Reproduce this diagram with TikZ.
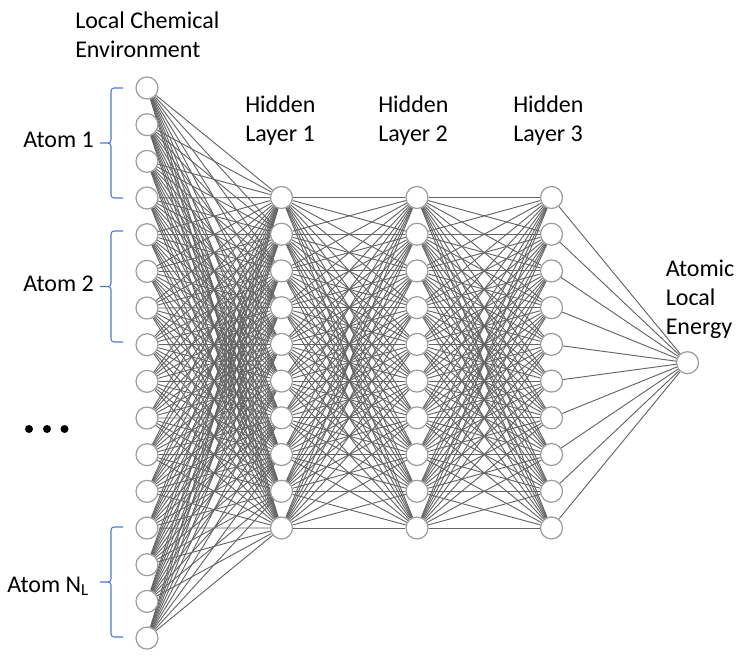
\documentclass[tikz,border=0pt]{standalone}
\usepackage{fontspec}
\setmainfont{Carlito}
\usetikzlibrary{calc,backgrounds}
\definecolor{edgegray}{HTML}{646464}
\definecolor{ringgray}{HTML}{9C9C9C}
\definecolor{braceblue}{HTML}{4A7BD0}
\tikzset{
  neuron/.style={circle, draw=ringgray, line width=0.9pt, fill=white, minimum size=16.5pt, inner sep=0pt},
  wire/.style={draw=edgegray, line width=0.7pt},
  lbl/.style={anchor=base west, inner sep=0pt, align=left, font=\fontsize{18}{21.75}\selectfont},
  atombrace/.style={draw=braceblue, line width=0.8pt, line join=round},
  dot/.style={circle, fill=black, minimum size=6pt, inner sep=0pt}
}
\newcommand{\drawatombrace}[2]{%
  \draw[atombrace] (123,#1) -- (114,#1) to[out=180,in=90] (111,#1+3)
     -- (111,{(#1+#2)/2-3}) to[out=-90,in=0] (108,{(#1+#2)/2}) -- (100,{(#1+#2)/2});
  \draw[atombrace] (123,#2) -- (114,#2) to[out=180,in=-90] (111,#2-3)
     -- (111,{(#1+#2)/2+3}) to[out=90,in=0] (108,{(#1+#2)/2});
}
\begin{document}
\begin{tikzpicture}[x=0.75pt, y=-0.75pt]
\useasboundingbox (0,0) rectangle (741,656);
% input layer
\foreach \i in {1,...,16} {
  \node[neuron] (in\i) at (147, {88+(\i-1)*36.67}) {};
}
% hidden layers
\foreach \i in {1,...,10} {
  \node[neuron] (ha\i) at (281.5, {197.5+(\i-1)*36.72}) {};
  \node[neuron] (hb\i) at (417, {197.5+(\i-1)*36.72}) {};
  \node[neuron] (hc\i) at (551.5, {197.5+(\i-1)*36.72}) {};
}
\node[neuron] (out) at (687.5, 362.7) {};
% connections
\begin{scope}[on background layer]
\foreach \i in {1,...,16} {
  \foreach \j in {1,...,10} {
    \draw[wire] (in\i) -- (ha\j);
  }
}
\foreach \i in {1,...,10} {
  \foreach \j in {1,...,10} {
    \draw[wire] (ha\i) -- (hb\j);
    \draw[wire] (hb\i) -- (hc\j);
  }
  \draw[wire] (hc\i) -- (out);
}
\end{scope}
% labels (anchored at the baseline of the last line)
\node[lbl] (lce) at (75,58) {Local Chemical\\Environment};
\node[lbl] (hl1) at (245,142) {Hidden\\Layer 1};
\node[lbl] (hl2) at (378,142) {Hidden\\Layer 2};
\node[lbl] (hl3) at (513,142) {Hidden\\Layer 3};
\node[lbl] (ale) at (665.5,334) {Atomic\\Local\\Energy};
\node[lbl] (a1) at (23,147.5) {Atom 1};
\node[lbl] (a2) at (23,291.5) {Atom 2};
\node[lbl] (anl) at (7,592) {Atom N\textsubscript{L}};
% braces
\drawatombrace{88}{198}
\drawatombrace{231}{342}
\drawatombrace{527}{637}
% ellipsis dots
\node[dot] (d1) at (29,429) {};
\node[dot] (d2) at (47,429) {};
\node[dot] (d3) at (64.5,429) {};
\end{tikzpicture}
\end{document}
